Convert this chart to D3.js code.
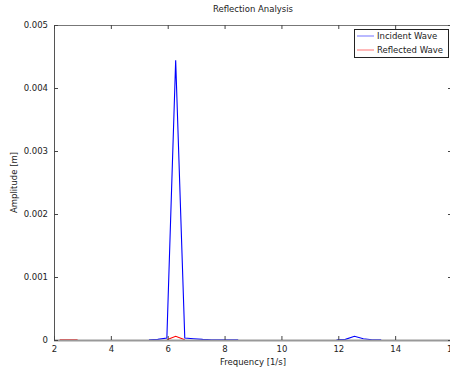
<!DOCTYPE html>
<html><head><meta charset="utf-8">
<script src="https://cdn.jsdelivr.net/npm/d3@7"></script>
<style>body{margin:0;background:#fff}svg{display:block}text{font-family:"DejaVu Sans",sans-serif;fill:#222}</style>
</head><body>
<script>
const title = "Reflection Analysis";
const xLabel = "Frequency [1/s]";
const yLabel = "Amplitude [m]";
const seriesNames = ["Incident Wave", "Reflected Wave"];
const seriesColors = ["#0000ff", "#ff0000"];
// frequencies (1/s), step ~ pi/10
const frequency = [2.20,2.51,2.83,3.14,3.46,3.77,4.08,4.40,4.71,5.03,5.34,5.65,5.97,6.28,6.60,6.91,7.23,7.54,7.85,8.17,8.48,8.80,9.11,9.42,9.74,10.05,10.37,10.68,11.00,11.31,11.62,11.94,12.25,12.57,12.88,13.19,13.51];
const incident = [null,null,null,null,null,null,null,null,null,null,0.000005,0.00001,0.00003,0.00444,0.00003,0.00002,0.00001,0.000005,0.000005,0.000003,0.000002,null,null,null,null,null,null,null,null,null,null,0.000005,0.00001,0.00006,0.00002,0.000005,0.000002];
const reflected = [0.000004,0.000004,0.000004,null,null,null,null,null,null,null,null,null,0.000005,0.00006,0.000005,null,null,null,null,null,null,null,null,null,null,null,null,null,null,null,null,null,null,null,null,null,null];
const xTicks = [2,4,6,8,10,12,14,16];
const yTicks = [0,0.001,0.002,0.003,0.004,0.005];
const yTickLabels = ["0","0.001","0.002","0.003","0.004","0.005"];

const W = 450, H = 372;
const m = {left:54, right:452, top:25, bottom:340};
const svg = d3.select("body").append("svg").attr("width",W).attr("height",H);
const x = d3.scaleLinear().domain([2,16]).range([m.left,m.right]);
const y = d3.scaleLinear().domain([0,0.005]).range([m.bottom,m.top]);
const fs = "8.5px";

// lines
const series = [incident, reflected];
series.forEach((vals,i)=>{
  const line = d3.line().defined(d=>d[1]!=null).x(d=>x(d[0])).y(d=>y(d[1]));
  svg.append("path").datum(frequency.map((f,j)=>[f,vals[j]]))
    .attr("d",line).attr("fill","none").attr("stroke",seriesColors[i]).attr("stroke-width",1.1);
});
// reorder: draw reflected over incident? keep incident on top for peak
// frame
const frame = svg.append("g");
frame.append("line").attr("x1",m.left).attr("x2",m.right).attr("y1",m.bottom+0.5).attr("y2",m.bottom+0.5).attr("stroke","#999").attr("stroke-width",2);
frame.append("line").attr("x1",m.left).attr("x2",m.right).attr("y1",m.top+0.5).attr("y2",m.top+0.5).attr("stroke","#777");
frame.append("line").attr("x1",m.left+0.5).attr("x2",m.left+0.5).attr("y1",m.top).attr("y2",m.bottom+1).attr("stroke","#555");

// axes
const xb = d3.axisBottom(x).tickValues(xTicks).tickSize(-4).tickPadding(6).tickFormat(d3.format("d"));
const gx = svg.append("g").attr("transform",`translate(0,${m.bottom})`).call(xb);
const xt = d3.axisTop(x).tickValues(xTicks).tickSize(-4).tickFormat("");
const gxt = svg.append("g").attr("transform",`translate(0,${m.top})`).call(xt);
const yl = d3.axisLeft(y).tickValues(yTicks).tickSize(-4).tickPadding(6).tickFormat((d,i)=>yTickLabels[i]);
const gy = svg.append("g").attr("transform",`translate(${m.left},0)`).call(yl);
const yr = d3.axisRight(y).tickValues(yTicks).tickSize(-4).tickFormat("");
const gyr = svg.append("g").attr("transform",`translate(${m.right},0)`).call(yr);
[gx,gxt,gy,gyr].forEach(g=>{
  g.select(".domain").remove();
  g.selectAll(".tick line").attr("stroke","#444");
  g.selectAll("text").attr("font-size",fs).attr("font-family","DejaVu Sans").attr("fill","#222");
});

// title and labels
svg.append("text").attr("x",(m.left+m.right)/2).attr("y",12).attr("text-anchor","middle").attr("font-size",fs).text(title);
svg.append("text").attr("x",(m.left+m.right)/2).attr("y",365).attr("text-anchor","middle").attr("font-size",fs).text(xLabel);
svg.append("text").attr("transform",`translate(17,${(m.top+m.bottom)/2}) rotate(-90)`).attr("text-anchor","middle").attr("font-size",fs).text(yLabel);

// legend
const lg = svg.append("g");
lg.append("rect").attr("x",354.5).attr("y",29.5).attr("width",94).attr("height",28).attr("fill","#fff").attr("stroke","#222").attr("stroke-width",1);
seriesNames.forEach((n,i)=>{
  const yy = 36 + i*14;
  lg.append("line").attr("x1",357).attr("x2",374).attr("y1",yy).attr("y2",yy).attr("stroke",seriesColors[i]).attr("stroke-opacity",0.55);
  lg.append("text").attr("x",377).attr("y",yy+3).attr("font-size",fs).text(n);
});
</script>
</body></html>
